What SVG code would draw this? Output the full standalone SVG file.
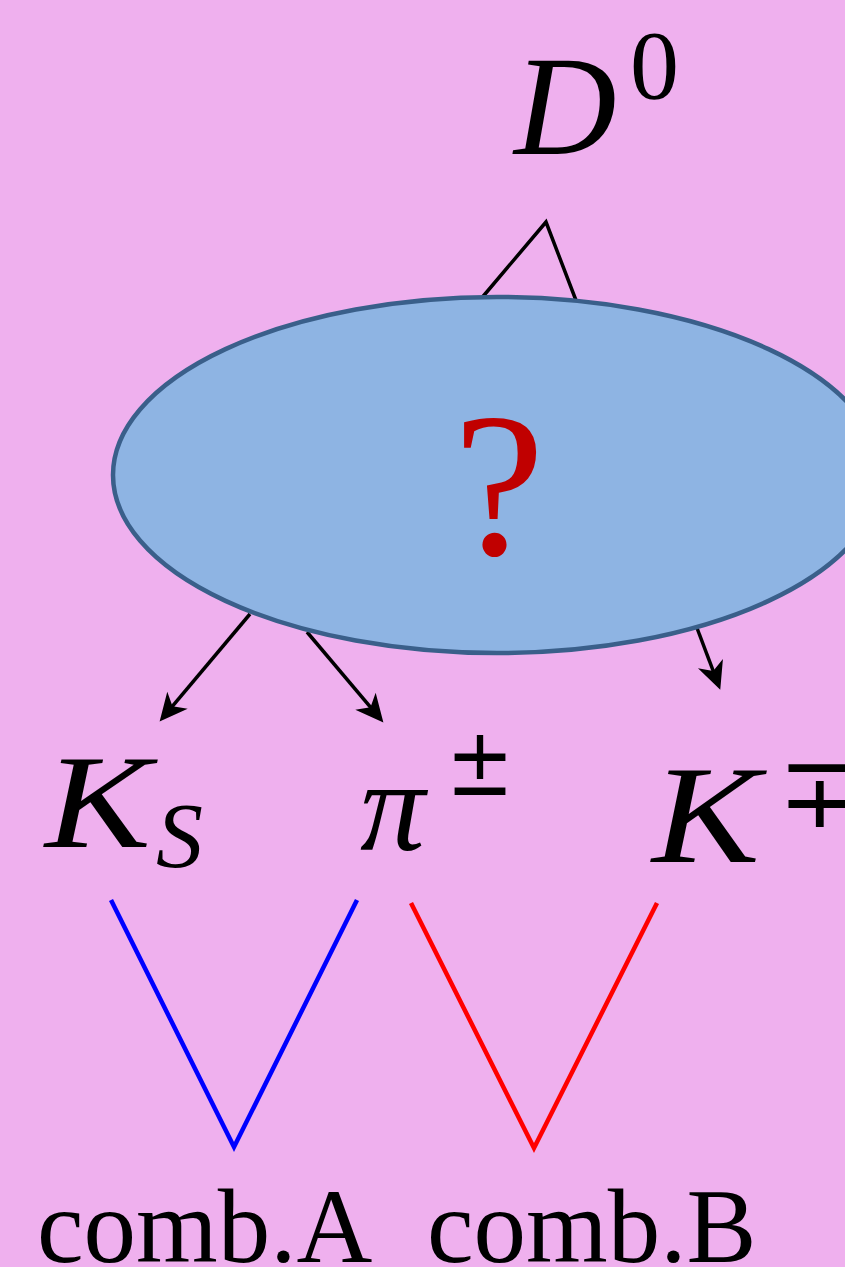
<svg xmlns="http://www.w3.org/2000/svg" width="845" height="1267" viewBox="0 0 845 1267">
  <style>
    .math { font-family: "Liberation Serif", "DejaVu Serif", serif; font-style: italic; fill: #000; }
    .sym { font-family: "DejaVu Serif", "Liberation Serif", serif; fill: #000; }
    .lbl { font-family: "Liberation Serif", "Times New Roman", serif; fill: #000; }
    .conn { stroke: #000; stroke-width: 3.5; fill: none; }
    .arrow { stroke: #000; stroke-width: 3.5; fill: none; marker-end: url(#stealth); }
    .blue { stroke: #0000FF; stroke-width: 4.5; fill: none; }
    .red { stroke: #FF0000; stroke-width: 4.5; fill: none; }
  </style>
  <defs>
    <marker id="stealth" markerUnits="userSpaceOnUse" markerWidth="40" markerHeight="40" viewBox="-30 -15 36 30" refX="-6" refY="0" orient="auto" overflow="visible">
      <path d="M0,0 L-25,-12 L-18,0 L-25,12 Z" fill="#000"/>
    </marker>
  </defs>
  <rect width="845" height="1267" fill="#EFB0EE"/>

  <g id="connectors">
    <polyline class="conn" points="480,300 546,222 577,303"/>
    <line class="arrow" x1="250" y1="614" x2="163.9" y2="716.4"/>
    <line class="arrow" x1="307" y1="632" x2="379.1" y2="717.4"/>
    <line class="arrow" x1="697" y1="628" x2="717.9" y2="683.4"/>
    <polyline class="blue" points="111,900 234,1147 357,900"/>
    <polyline class="red" points="411,903 534,1148 657,903"/>
  </g>

  <g id="node-D0">
    <text class="math" x="514" y="154" font-size="142">D</text>
    <text class="lbl" x="630" y="98" font-size="98">0</text>
  </g>

  <g id="node-unknown">
    <ellipse cx="497" cy="475" rx="384" ry="178" fill="#8EB4E3" stroke="#3A5F8A" stroke-width="4.5"/>
    <text class="lbl" x="499" y="554" font-size="205" text-anchor="middle" style="fill:#C00000">?</text>
  </g>

  <g id="node-KS">
    <text class="math" x="45" y="847" font-size="134" textLength="106" lengthAdjust="spacingAndGlyphs">K</text>
    <text class="math" x="156" y="867" font-size="94">S</text>
  </g>

  <g id="node-pi">
    <text class="math" x="360" y="850" font-size="130">π</text>
    <text class="sym" x="446" y="795" font-size="96" textLength="68" lengthAdjust="spacingAndGlyphs">±</text>
  </g>

  <g id="node-K">
    <text class="math" x="652" y="862" font-size="140" textLength="108" lengthAdjust="spacingAndGlyphs">K</text>
    <text class="sym" x="778" y="827" font-size="100">∓</text>
  </g>

  <g id="node-combA">
    <text class="lbl" x="37" y="1262" font-size="105">comb.A</text>
  </g>
  <g id="node-combB">
    <text class="lbl" x="427" y="1262" font-size="105">comb.B</text>
  </g>
</svg>
